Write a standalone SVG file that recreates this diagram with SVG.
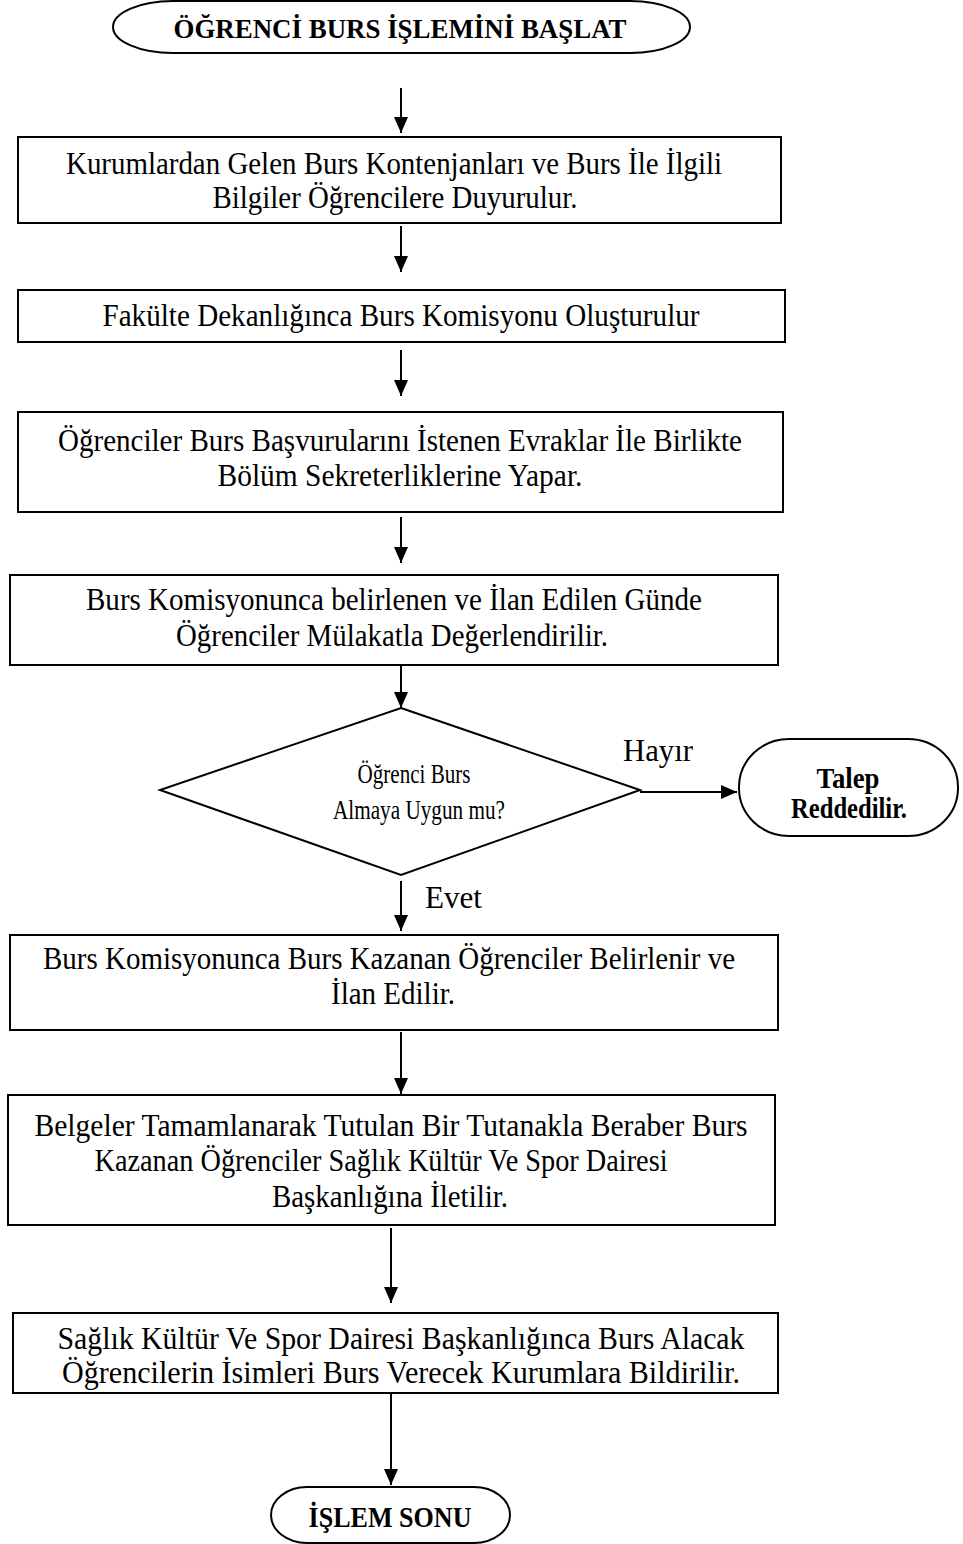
<svg xmlns="http://www.w3.org/2000/svg" width="963" height="1544" viewBox="0 0 963 1544">
  <style>
    .shape { fill: #ffffff; stroke: #000000; stroke-width: 2; }
    .txt { font-family: "Liberation Serif", "Times New Roman", serif; font-size: 31px; fill: #000000; text-anchor: middle; }
    .bold { font-weight: bold; font-size: 27px; }
    .big { font-size: 30px; }
    .small { font-size: 27px; }
    .lbl { font-family: "Liberation Serif", "Times New Roman", serif; font-size: 31px; fill: #000000; }
    .conn { stroke: #000000; stroke-width: 2; fill: none; marker-end: url(#arrow); }
  </style>
  <defs>
    <marker id="arrow" markerUnits="userSpaceOnUse" markerWidth="16" markerHeight="14" viewBox="0 0 16 14" refX="16" refY="7" orient="auto">
      <path d="M0,0 L16,7 L0,14 Z" fill="#000000"/>
    </marker>
  </defs>

  <rect width="963" height="1544" fill="#ffffff"/>

  <!-- connectors -->
  <g id="connectors">
    <line class="conn" x1="401" y1="88" x2="401" y2="133"/>
    <line class="conn" x1="401" y1="226" x2="401" y2="272"/>
    <line class="conn" x1="401" y1="350" x2="401" y2="396"/>
    <line class="conn" x1="401" y1="517" x2="401" y2="563"/>
    <line class="conn" x1="401" y1="666" x2="401" y2="708"/>
    <line class="conn" x1="640" y1="792" x2="737" y2="792"/>
    <line class="conn" x1="401" y1="881" x2="401" y2="931"/>
    <line class="conn" x1="401" y1="1032" x2="401" y2="1094"/>
    <line class="conn" x1="391" y1="1228" x2="391" y2="1303"/>
    <line class="conn" x1="391" y1="1394" x2="391" y2="1485"/>
    <text class="lbl" x="623" y="761" textLength="70" lengthAdjust="spacingAndGlyphs">Hayır</text>
    <text class="lbl" x="425" y="908" textLength="57" lengthAdjust="spacingAndGlyphs">Evet</text>
  </g>

  <!-- start terminal -->
  <g id="start">
    <rect class="shape" x="113" y="1" width="577" height="52" rx="60" ry="26"/>
    <text class="txt bold" x="400" y="38" textLength="453" lengthAdjust="spacingAndGlyphs">ÖĞRENCİ BURS  İŞLEMİNİ BAŞLAT</text>
  </g>

  <g id="step1">
    <rect class="shape" x="18" y="137" width="763" height="86"/>
    <text class="txt" x="394" y="174" textLength="656" lengthAdjust="spacingAndGlyphs">Kurumlardan Gelen Burs Kontenjanları ve Burs İle İlgili</text>
    <text class="txt" x="395" y="208" textLength="365" lengthAdjust="spacingAndGlyphs">Bilgiler Öğrencilere Duyurulur.</text>
  </g>

  <g id="step2">
    <rect class="shape" x="18" y="290" width="767" height="52"/>
    <text class="txt" x="401" y="326" textLength="597" lengthAdjust="spacingAndGlyphs">Fakülte Dekanlığınca Burs Komisyonu Oluşturulur</text>
  </g>

  <g id="step3">
    <rect class="shape" x="18" y="412" width="765" height="100"/>
    <text class="txt" x="400" y="451" textLength="684" lengthAdjust="spacingAndGlyphs">Öğrenciler Burs Başvurularını İstenen Evraklar İle Birlikte</text>
    <text class="txt" x="400" y="486" textLength="365" lengthAdjust="spacingAndGlyphs">Bölüm Sekreterliklerine Yapar.</text>
  </g>

  <g id="step4">
    <rect class="shape" x="10" y="575" width="768" height="90"/>
    <text class="txt" x="394" y="610" textLength="616" lengthAdjust="spacingAndGlyphs">Burs Komisyonunca belirlenen ve İlan Edilen Günde</text>
    <text class="txt" x="392" y="646" textLength="432" lengthAdjust="spacingAndGlyphs">Öğrenciler Mülakatla Değerlendirilir.</text>
  </g>

  <g id="decision">
    <polygon class="shape" points="401,708 640,790 401,875 160,790"/>
    <text class="txt small" x="414" y="783" textLength="113" lengthAdjust="spacingAndGlyphs">Öğrenci Burs</text>
    <text class="txt small" x="419" y="819" textLength="172" lengthAdjust="spacingAndGlyphs">Almaya Uygun mu?</text>
  </g>

  <g id="rejected">
    <rect class="shape" x="739" y="739" width="219" height="97" rx="50" ry="48"/>
    <text class="txt bold big" x="848" y="788" textLength="63" lengthAdjust="spacingAndGlyphs">Talep</text>
    <text class="txt bold big" x="849" y="818" textLength="116" lengthAdjust="spacingAndGlyphs">Reddedilir.</text>
  </g>

  <g id="step5">
    <rect class="shape" x="10" y="935" width="768" height="95"/>
    <text class="txt" x="389" y="969" textLength="692" lengthAdjust="spacingAndGlyphs">Burs Komisyonunca Burs Kazanan Öğrenciler Belirlenir ve</text>
    <text class="txt" x="393" y="1004" textLength="124" lengthAdjust="spacingAndGlyphs">İlan Edilir.</text>
  </g>

  <g id="step6">
    <rect class="shape" x="8" y="1095" width="767" height="130"/>
    <text class="txt" x="391" y="1136" textLength="713" lengthAdjust="spacingAndGlyphs">Belgeler Tamamlanarak Tutulan Bir Tutanakla Beraber  Burs</text>
    <text class="txt" x="381" y="1171" textLength="573" lengthAdjust="spacingAndGlyphs">Kazanan Öğrenciler Sağlık Kültür Ve Spor Dairesi</text>
    <text class="txt" x="390" y="1207" textLength="236" lengthAdjust="spacingAndGlyphs">Başkanlığına İletilir.</text>
  </g>

  <g id="step7">
    <rect class="shape" x="13" y="1313" width="765" height="80"/>
    <text class="txt" x="401" y="1349" textLength="687" lengthAdjust="spacingAndGlyphs">Sağlık Kültür Ve Spor Dairesi Başkanlığınca Burs Alacak</text>
    <text class="txt" x="401" y="1383" textLength="678" lengthAdjust="spacingAndGlyphs">Öğrencilerin İsimleri Burs Verecek Kurumlara Bildirilir.</text>
  </g>

  <g id="end">
    <rect class="shape" x="271" y="1487" width="239" height="56" rx="36" ry="28"/>
    <text class="txt bold big" x="390" y="1527" textLength="163" lengthAdjust="spacingAndGlyphs">İŞLEM SONU</text>
  </g>
</svg>
